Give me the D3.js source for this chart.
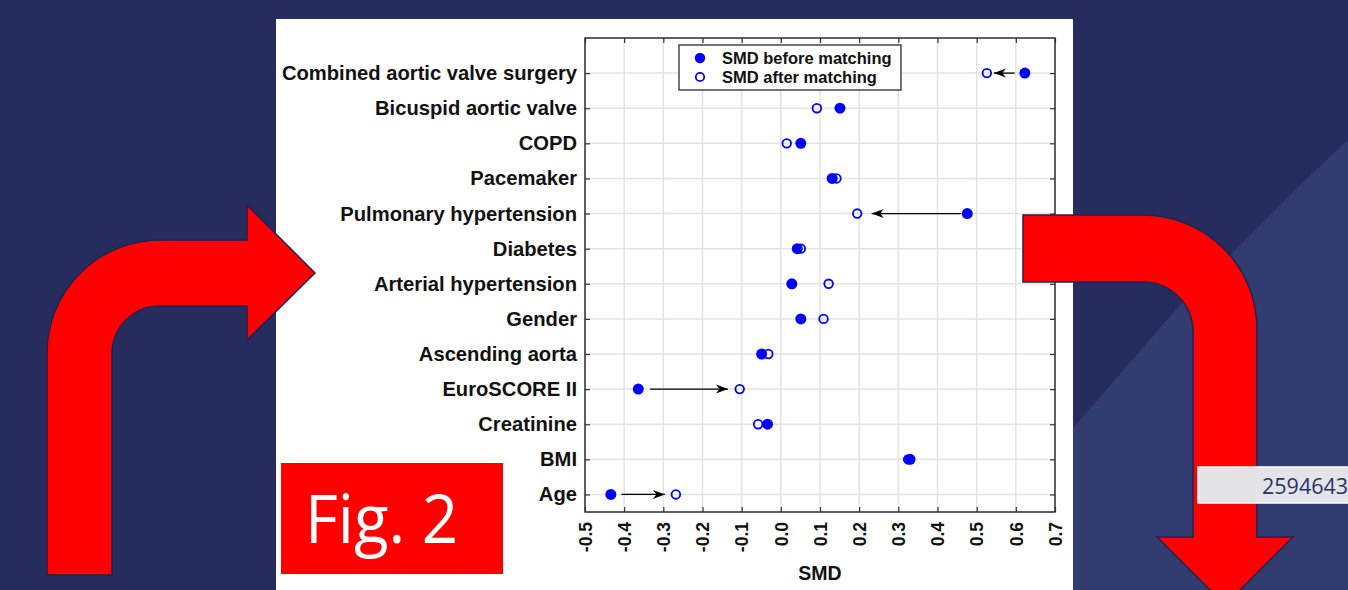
<!DOCTYPE html>
<html>
<head>
<meta charset="utf-8">
<script src="https://cdn.jsdelivr.net/npm/d3@7"></script>
<style>
    html, body { margin: 0; padding: 0; background: #262d5e; overflow: hidden; }
    svg { display: block; }
</style>
</head>
<body>
<svg id="slide" width="1348" height="590"></svg>
<script>
    'use strict';

    // covariates, top to bottom as in the figure
    var categories = [
        'Combined aortic valve surgery',
        'Bicuspid aortic valve',
        'COPD',
        'Pacemaker',
        'Pulmonary hypertension',
        'Diabetes',
        'Arterial hypertension',
        'Gender',
        'Ascending aorta',
        'EuroSCORE II',
        'Creatinine',
        'BMI',
        'Age'
    ];
    var smdBefore = [0.623, 0.151, 0.051, 0.131, 0.476, 0.042, 0.028, 0.051, -0.049, -0.364, -0.034, 0.330, -0.434];
    var smdAfter = [0.526, 0.092, 0.015, 0.142, 0.195, 0.051, 0.122, 0.109, -0.032, -0.105, -0.058, 0.325, -0.268];

    // hand drawn arrows of the original figure (SMD units)
    var arrowRows = ['Combined aortic valve surgery', 'Pulmonary hypertension', 'EuroSCORE II', 'Age'];
    var arrowFrom = [0.597, 0.461, -0.334, -0.407];
    var arrowTo = [0.544, 0.232, -0.135, -0.296];

    var xTicks = [-0.5, -0.4, -0.3, -0.2, -0.1, 0, 0.1, 0.2, 0.3, 0.4, 0.5, 0.6, 0.7];
    var xTickLabels = ['-0.5', '-0.4', '-0.3', '-0.2', '-0.1', '0.0', '0.1', '0.2', '0.3', '0.4', '0.5', '0.6', '0.7'];
    var legendLabels = ['SMD before matching', 'SMD after matching'];

    (function() {
        var blue = '#0000ff';
        var font = '"Liberation Sans", Arial, sans-serif';

        var svg = d3.select('#slide');

        // slide background
        svg.append('rect').attr('width', 1348).attr('height', 590).attr('fill', '#262d5e');
        svg.append('path')
            .attr('d', 'M1073,428 L1180,305 L1300,185 L1348,140 L1348,590 L1073,590 Z')
            .attr('fill', '#323c70');

        // white figure panel
        svg.append('rect')
            .attr('x', 276).attr('y', 19)
            .attr('width', 797).attr('height', 575)
            .attr('fill', '#ffffff');

        var plotLeft = 585, plotRight = 1055, plotTop = 38, plotBottom = 512;

        var x = d3.scaleLinear().domain([-0.5, 0.7]).range([plotLeft, plotRight]);
        var y = d3.scaleLinear().domain([-0.5, categories.length]).range([plotBottom, plotTop]);
        var rowY = function(name) {
            return y(categories.length - 1 - categories.indexOf(name));
        };

        var chart = svg.append('g');

        // grid
        chart.append('g').selectAll('line')
            .data(xTicks.slice(1, -1))
            .enter().append('line')
            .attr('x1', function(d) { return x(d); })
            .attr('x2', function(d) { return x(d); })
            .attr('y1', plotTop).attr('y2', plotBottom)
            .attr('stroke', '#e3e3e3').attr('stroke-width', 1.5);

        chart.append('g').selectAll('line')
            .data(categories)
            .enter().append('line')
            .attr('x1', plotLeft).attr('x2', plotRight)
            .attr('y1', rowY).attr('y2', rowY)
            .attr('stroke', '#e3e3e3').attr('stroke-width', 1.5);

        // axes: MATLAB style box with inward ticks
        var yTickScale = d3.scalePoint().domain(categories)
            .range([rowY(categories[0]), rowY(categories[categories.length - 1])]);

        var xBottom = chart.append('g')
            .attr('transform', 'translate(0,' + plotBottom + ')')
            .call(d3.axisBottom(x).tickValues(xTicks).tickSizeInner(-5).tickSizeOuter(0)
                .tickFormat(function(d, i) { return xTickLabels[i]; }));
        xBottom.selectAll('text')
            .attr('transform', 'rotate(-90)')
            .attr('x', -10).attr('y', 0).attr('dy', '0.36em')
            .attr('text-anchor', 'end');

        var xTop = chart.append('g')
            .attr('transform', 'translate(0,' + plotTop + ')')
            .call(d3.axisTop(x).tickValues(xTicks).tickSizeInner(-5).tickSizeOuter(0).tickFormat(''));

        var yLeft = chart.append('g')
            .attr('transform', 'translate(' + plotLeft + ',0)')
            .call(d3.axisLeft(yTickScale).tickSizeInner(-5).tickSizeOuter(0).tickPadding(8));

        var yRight = chart.append('g')
            .attr('transform', 'translate(' + plotRight + ',0)')
            .call(d3.axisRight(yTickScale).tickSizeInner(-5).tickSizeOuter(0).tickFormat(''));

        [xBottom, xTop, yLeft, yRight].forEach(function(g) {
            g.select('.domain').remove();
            g.selectAll('line').attr('stroke', '#333333').attr('stroke-width', 1.2);
            g.selectAll('text')
                .attr('fill', '#111111')
                .style('font-family', font)
                .style('font-weight', 'bold');
        });
        xBottom.selectAll('text').style('font-size', '17.5px');
        yLeft.selectAll('text').style('font-size', '20.2px');

        chart.append('rect')
            .attr('x', plotLeft).attr('y', plotTop)
            .attr('width', plotRight - plotLeft).attr('height', plotBottom - plotTop)
            .attr('fill', 'none')
            .attr('stroke', '#2b2b2b').attr('stroke-width', 1.5);

        chart.append('text')
            .attr('x', (plotLeft + plotRight) / 2).attr('y', 580)
            .attr('text-anchor', 'middle')
            .attr('fill', '#111111')
            .style('font-family', font).style('font-weight', 'bold').style('font-size', '19.5px')
            .text('SMD');

        // arrows
        svg.append('defs').append('marker')
            .attr('id', 'head')
            .attr('viewBox', '-13 -5 14 10')
            .attr('refX', 0).attr('refY', 0)
            .attr('markerUnits', 'userSpaceOnUse')
            .attr('markerWidth', 14).attr('markerHeight', 10)
            .attr('orient', 'auto')
            .append('path')
            .attr('d', 'M0,0 L-12,-4.5 L-8.5,0 L-12,4.5 Z')
            .attr('fill', '#000000');

        chart.append('g').selectAll('line')
            .data(arrowRows)
            .enter().append('line')
            .attr('x1', function(d, i) { return x(arrowFrom[i]); })
            .attr('x2', function(d, i) { return x(arrowTo[i]); })
            .attr('y1', rowY).attr('y2', rowY)
            .attr('stroke', '#000000').attr('stroke-width', 1.3)
            .attr('marker-end', 'url(#head)');

        // points
        chart.append('g').selectAll('circle')
            .data(categories)
            .enter().append('circle')
            .attr('cx', function(d, i) { return x(smdAfter[i]); })
            .attr('cy', rowY)
            .attr('r', 4.3)
            .attr('fill', 'none')
            .attr('stroke', blue).attr('stroke-width', 1.8);

        chart.append('g').selectAll('circle')
            .data(categories)
            .enter().append('circle')
            .attr('cx', function(d, i) { return x(smdBefore[i]); })
            .attr('cy', rowY)
            .attr('r', 5.5)
            .attr('fill', blue);

        // legend
        var legend = chart.append('g').attr('transform', 'translate(679,45)');
        legend.append('rect')
            .attr('width', 222).attr('height', 45)
            .attr('fill', '#ffffff')
            .attr('stroke', '#2b2b2b').attr('stroke-width', 1.3);

        var item = legend.selectAll('g')
            .data(legendLabels)
            .enter().append('g')
            .attr('transform', function(d, i) { return 'translate(0,' + (13 + i * 19) + ')'; });

        item.append('circle')
            .attr('cx', 21).attr('cy', 0)
            .attr('r', function(d, i) { return i === 0 ? 5.2 : 4.2; })
            .attr('fill', function(d, i) { return i === 0 ? blue : 'none'; })
            .attr('stroke', function(d, i) { return i === 0 ? 'none' : blue; })
            .attr('stroke-width', 1.8);

        item.append('text')
            .attr('x', 43).attr('dy', '0.36em')
            .attr('fill', '#111111')
            .style('font-family', font).style('font-weight', 'bold').style('font-size', '16.5px')
            .text(function(d) { return d; });

        // slide decorations
        var arrowStyle = function(sel) {
            sel.attr('fill', '#ff0000').attr('stroke', '#1f2550').attr('stroke-width', 1.5);
        };

        svg.append('path')
            .attr('d', 'M47,575 L47,353 A113,113 0 0 1 160,240 L247,240 L247,205 L315,273 L247,340 L247,306 ' +
                'L160,306 A48,48 0 0 0 112,354 L112,575 Z')
            .call(arrowStyle);

        svg.append('path')
            .attr('d', 'M1023,215 L1143,215 A114,114 0 0 1 1257,329 L1257,537 L1293,537 L1225,605 L1157,537 ' +
                'L1193,537 L1193,332 A50,50 0 0 0 1143,282 L1023,282 Z')
            .call(arrowStyle);

        svg.append('rect')
            .attr('x', 1198).attr('y', 467)
            .attr('width', 160).attr('height', 36)
            .attr('fill', '#e4e4e8')
            .attr('stroke', '#ffffff').attr('stroke-width', 1.5);
        svg.append('text')
            .attr('x', 1262).attr('y', 494)
            .attr('fill', '#2a3366')
            .style('font-family', '"Open Sans", "Noto Sans", sans-serif').style('font-size', '21.5px')
            .text('2594643');

        svg.append('rect')
            .attr('x', 281).attr('y', 463)
            .attr('width', 222).attr('height', 111)
            .attr('fill', '#ff0000');
        svg.append('text')
            .attr('x', 305).attr('y', 543)
            .attr('fill', '#ffffff')
            .attr('textLength', 153).attr('lengthAdjust', 'spacingAndGlyphs')
            .style('font-family', '"Open Sans", "Noto Sans", sans-serif').style('font-size', '68px')
            .text('Fig. 2');
    })();
</script>
</body>
</html>
